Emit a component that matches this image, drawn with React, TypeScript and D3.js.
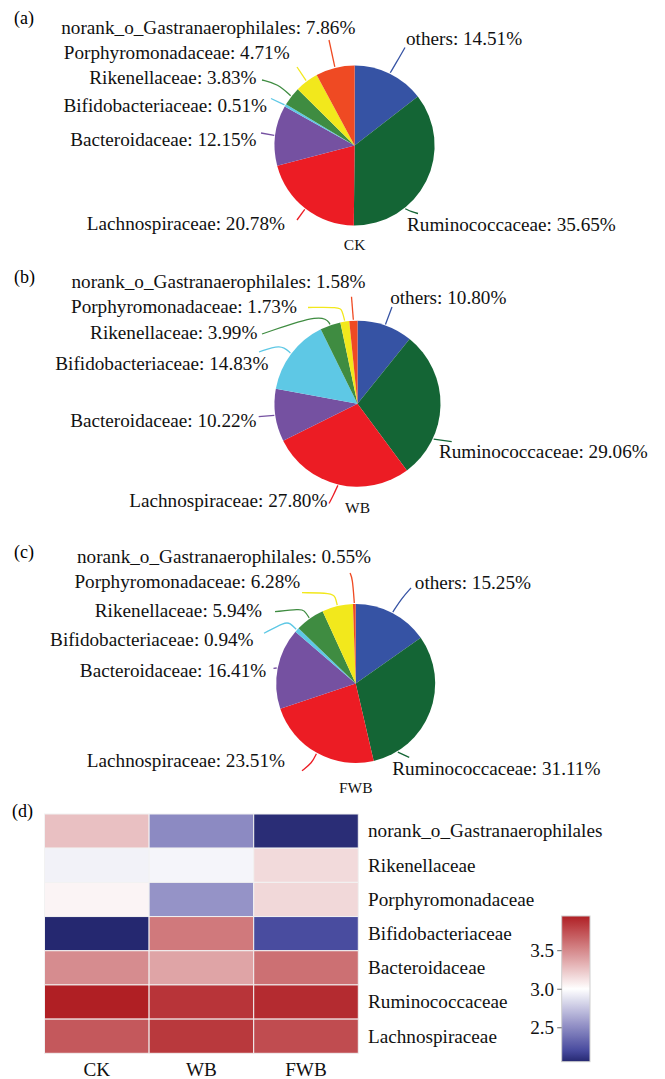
import React from "react";
import * as d3 from "d3";

// ---------- DATA ----------
const families = [
  "others",
  "Ruminococcaceae",
  "Lachnospiraceae",
  "Bacteroidaceae",
  "Bifidobacteriaceae",
  "Rikenellaceae",
  "Porphyromonadaceae",
  "norank_o_Gastranaerophilales",
];
const pieColors = ["#3653a4", "#146535", "#ec1c24", "#7551a1", "#5ec8e5", "#3f8c41", "#f2e81c", "#ef4a23"];
const ckShares = [14.51, 35.65, 20.78, 12.15, 0.51, 3.83, 4.71, 7.86];
const wbShares = [10.8, 29.06, 27.8, 10.22, 14.83, 3.99, 1.73, 1.58];
const fwbShares = [15.25, 31.11, 23.51, 16.41, 0.94, 5.94, 6.28, 0.55];
const samples = ["CK", "WB", "FWB"];
const panelLetters = ["(a)", "(b)", "(c)", "(d)"];

const heatRows = [
  "norank_o_Gastranaerophilales",
  "Rikenellaceae",
  "Porphyromonadaceae",
  "Bifidobacteriaceae",
  "Bacteroidaceae",
  "Ruminococcaceae",
  "Lachnospiraceae",
];
const heatCK = [3.27, 2.95, 3.05, 2.06, 3.49, 3.95, 3.71];
const heatWB = [2.5, 2.96, 2.54, 3.57, 3.39, 3.86, 3.84];
const heatFWB = [2.08, 3.16, 3.17, 2.21, 3.61, 3.9, 3.76];
const colorbarTicks = [2.5, 3.0, 3.5];

// ---------- LAYOUT ----------
const FONT = "'Liberation Serif', 'Times New Roman', serif";
const FS = 19.2;

type Lbl = { x: number; y: number; a: "start" | "end"; frac?: number; pts: number[][] };
type PieLayout = { cx: number; cy: number; r: number; letterY: number; sampleY: number; labels: Lbl[] };

const pieLayouts: PieLayout[] = [
  {
    cx: 354.6, cy: 145.5, r: 80, letterY: 24, sampleY: 250,
    labels: [
      { x: 406, y: 44.5, a: "start", pts: [[399, 58], [405, 47.5]] },
      { x: 407, y: 231, a: "start", frac: 0.694, pts: [[412, 212], [418, 213.5]] },
      { x: 285, y: 229.5, a: "end", pts: [[297, 220]] },
      { x: 256.6, y: 145.5, a: "end", pts: [[261, 133]] },
      { x: 267, y: 112, a: "end", pts: [[271, 98.5]] },
      { x: 256.6, y: 84.4, a: "end", pts: [[278, 84], [262, 80]] },
      { x: 289.7, y: 59, a: "end", pts: [[297, 67]] },
      { x: 355.4, y: 33.5, a: "end", pts: [[329, 40]] },
    ],
  },
  {
    cx: 357.5, cy: 403.7, r: 83, letterY: 283, sampleY: 513,
    labels: [
      { x: 390.2, y: 304, a: "start", pts: [[392, 307]] },
      { x: 438.9, y: 457.5, a: "start", frac: 0.727, pts: [[451.7, 441.7]] },
      { x: 327.4, y: 506.7, a: "end", pts: [[333, 496], [329, 503.5]] },
      { x: 256.6, y: 426.7, a: "end", pts: [[258.7, 416.7]] },
      { x: 268.4, y: 370, a: "end", pts: [[281, 344], [259, 352]] },
      { x: 257.4, y: 339.3, a: "end", pts: [[323, 313], [262, 334]] },
      { x: 296.9, y: 313.3, a: "end", pts: [[342, 310], [339, 307], [308, 307.5]] },
      { x: 365.6, y: 288.3, a: "end", pts: [[351.5, 296.7]] },
    ],
  },
  {
    cx: 355.7, cy: 683.5, r: 79.5, letterY: 558, sampleY: 792.7,
    labels: [
      { x: 414.8, y: 588.5, a: "start", pts: [[402, 598], [411, 588]] },
      { x: 392.3, y: 775, a: "start", frac: 0.835, pts: [[409.2, 757.3]] },
      { x: 285, y: 767.3, a: "end", pts: [[312, 763], [302, 770.7]] },
      { x: 266.3, y: 676.7, a: "end", pts: [[273.5, 668.3]] },
      { x: 253.6, y: 646, a: "end", pts: [[290, 623], [285, 622], [264, 633.3]] },
      { x: 262.1, y: 616.7, a: "end", pts: [[304, 610], [300, 609], [275, 611.7]] },
      { x: 300.3, y: 588.3, a: "end", pts: [[335.5, 597], [332, 593], [302, 592.7]] },
      { x: 371.1, y: 563.3, a: "end", pts: [[352.5, 578], [350, 573]] },
    ],
  },
];

const heat = { x0: 44.5, x1: 358.3, y0: 814, y1: 1053.3, labelX: 368, colLabelY: 1076, letterY: 817 };
const cbar = { x0: 561.7, x1: 590, y0: 916, y1: 1061.7 };

function PiePanel({ shares, layout, sample, letter }: { shares: number[]; layout: PieLayout; sample: string; letter: string }) {
  const arcs = d3.pie<number>().sort(null).value((d) => d)(shares);
  const arcGen = d3.arc<d3.PieArcDatum<number>>().innerRadius(0).outerRadius(layout.r);
  const line = d3.line().curve(d3.curveBasis);
  return (
    <g>
      <text x={14} y={layout.letterY} fontSize={18} fontFamily={FONT}>{letter}</text>
      <g transform={`translate(${layout.cx},${layout.cy})`}>
        {arcs.map((a, i) => (
          <path key={i} d={arcGen(a) || ""} fill={pieColors[i]} />
        ))}
      </g>
      {arcs.map((a, i) => {
        const L = layout.labels[i];
        const f = L.frac ?? 0.5;
        const th = a.startAngle + f * (a.endAngle - a.startAngle);
        const rr = layout.r + 1;
        const start: [number, number] = [layout.cx + rr * Math.sin(th), layout.cy - rr * Math.cos(th)];
        const pts = [start, ...L.pts.map((p) => [p[0], p[1]] as [number, number])];
        return (
          <g key={"l" + i}>
            <path d={line(pts) || ""} fill="none" stroke={pieColors[i]} strokeWidth={1.3} />
            <text x={L.x} y={L.y} textAnchor={L.a} fontSize={FS} fontFamily={FONT} fill="#111">
              {`${families[i]}: ${shares[i].toFixed(2)}%`}
            </text>
          </g>
        );
      })}
      <text x={layout.cx} y={layout.sampleY} textAnchor="middle" fontSize={15.5} fontFamily={FONT} fill="#111">{sample}</text>
    </g>
  );
}

export default function App() {
  const cols = [heatCK, heatWB, heatFWB];
  const all = cols.flat();
  const [mn, mx] = d3.extent(all) as [number, number];
  const mid = (mn + mx) / 2;
  const h = mid - mn;
  const color = d3
    .scaleLinear<string>()
    .domain([mn, mid - 0.85 * h, mid - 0.5 * h, mid, mx])
    .range(["#252870", "#474a9e", "#9391c6", "#ffffff", "#b01f24"])
    .interpolate(d3.interpolateRgb)
    .clamp(true);

  const xBand = d3.scaleBand<string>().domain(samples).range([heat.x0, heat.x1]).padding(0);
  const yBand = d3.scaleBand<string>().domain(heatRows).range([heat.y0, heat.y1]).padding(0);
  const cy = d3.scaleLinear().domain([mn, mx]).range([cbar.y1, cbar.y0]);
  const stops = d3.range(0, 1.0001, 0.02);

  const shareSets = [ckShares, wbShares, fwbShares];

  return (
    <svg width={665} height={1079} style={{ position: "absolute", left: 0, top: 0, background: "#fff" }}>
      <defs>
        <linearGradient id="cbg" x1="0" y1="1" x2="0" y2="0">
          {stops.map((s, i) => (
            <stop key={i} offset={`${s * 100}%`} stopColor={color(mn + s * (mx - mn))} />
          ))}
        </linearGradient>
      </defs>
      <rect width={665} height={1079} fill="#fff" />
      {pieLayouts.map((L, k) => (
        <PiePanel key={k} shares={shareSets[k]} layout={L} sample={samples[k]} letter={panelLetters[k]} />
      ))}

      {/* heatmap */}
      <text x={12} y={heat.letterY} fontSize={18} fontFamily={FONT}>{panelLetters[3]}</text>
      {samples.map((s, ci) =>
        heatRows.map((r, ri) => (
          <rect
            key={s + r}
            x={xBand(s)}
            y={yBand(r)}
            width={xBand.bandwidth()}
            height={yBand.bandwidth()}
            fill={color(cols[ci][ri])}
            stroke="#f2f2f2"
            strokeWidth={1}
          />
        ))
      )}
      {heatRows.map((r) => (
        <text key={"rl" + r} x={heat.labelX} y={(yBand(r) as number) + yBand.bandwidth() / 2 + 6.3} fontSize={FS} fontFamily={FONT} fill="#111">
          {r}
        </text>
      ))}
      {samples.map((s) => (
        <text key={"cl" + s} x={(xBand(s) as number) + xBand.bandwidth() / 2} y={heat.colLabelY} textAnchor="middle" fontSize={FS} fontFamily={FONT} fill="#111">
          {s}
        </text>
      ))}

      {/* colorbar */}
      <rect x={cbar.x0} y={cbar.y0} width={cbar.x1 - cbar.x0} height={cbar.y1 - cbar.y0} fill="url(#cbg)" stroke="#cfcfcf" strokeWidth={1} />
      {colorbarTicks.map((t) => (
        <g key={"t" + t}>
          <line x1={cbar.x0 - 4.5} x2={cbar.x0} y1={cy(t)} y2={cy(t)} stroke="#666" strokeWidth={1} />
          <text x={cbar.x0 - 7.5} y={cy(t) + 6.5} textAnchor="end" fontSize={FS} fontFamily={FONT} fill="#111">
            {t.toFixed(1)}
          </text>
        </g>
      ))}
    </svg>
  );
}
